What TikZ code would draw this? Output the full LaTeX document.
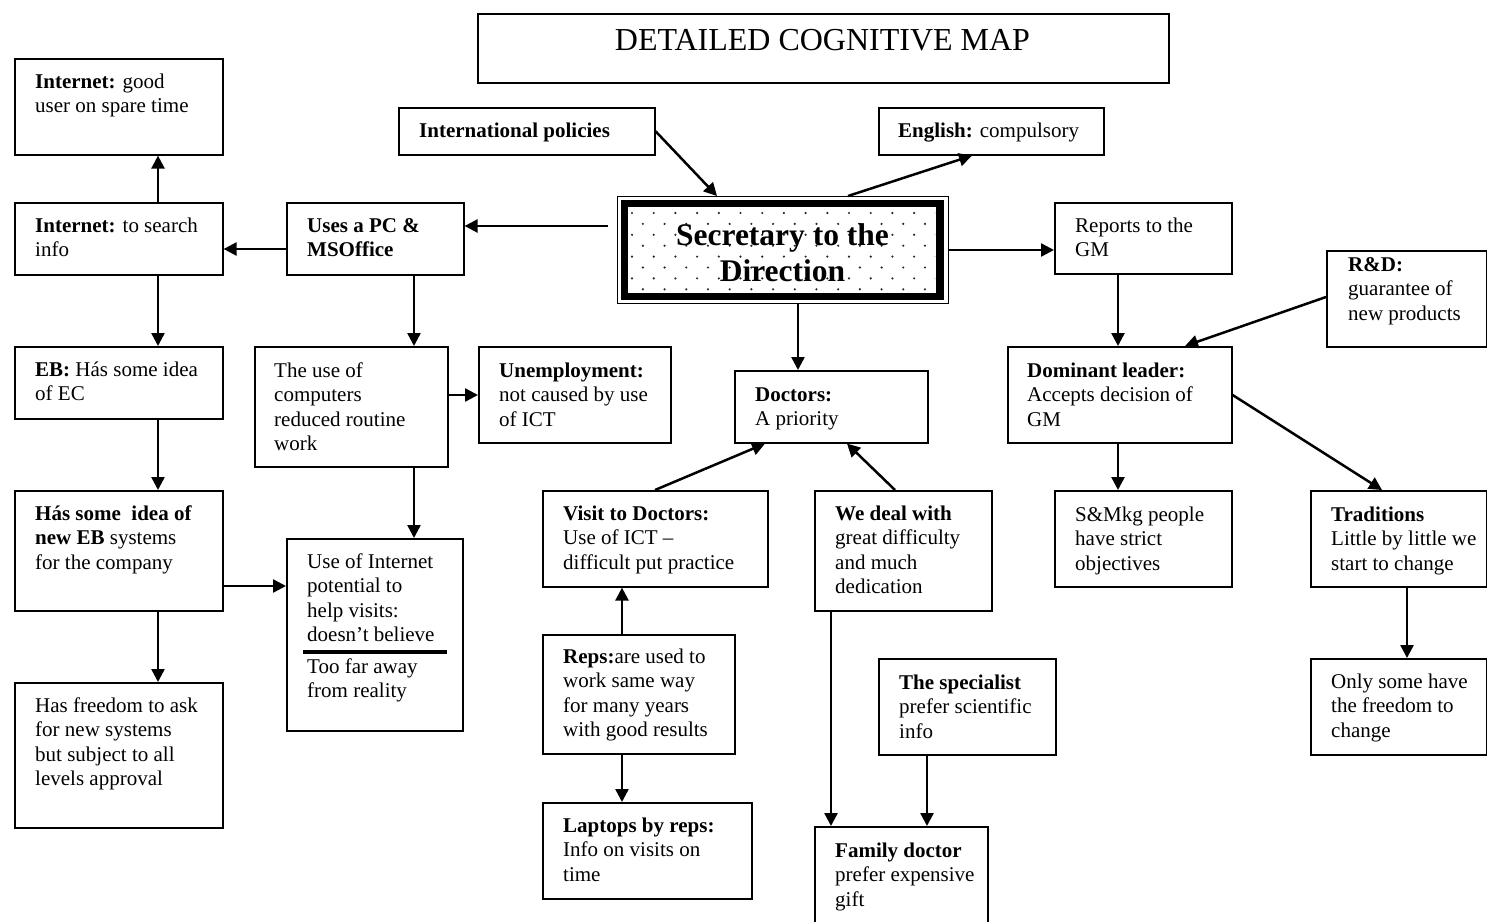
\documentclass[tikz,border=0pt]{standalone}
\usepackage{fontspec}
\setmainfont{Liberation Serif}
\usetikzlibrary{arrows.meta}
\begin{document}
\begin{tikzpicture}[x=1pt,y=-1pt,
  box/.style={draw, line width=1.6pt, inner sep=0pt, anchor=north west},
  txt/.style={inner sep=0pt, anchor=north west, align=left, font=\fontsize{21}{24.5}\selectfont},
  arr/.style={line width=2.5pt, -{Triangle[length=13pt,width=13pt]}},
  rule/.style={line width=3.3pt}
]
% box: name, left, top, right, bottom (y grows downwards)
\newcommand\mybox[5]{\node[box, minimum width={#4-#2}, minimum height={#5-#3}] (#1) at (#2,#3) {};}
% text: name, left, first baseline, content
\newcommand\mytext[4]{\node[txt] (#1) at (#2,{#3-17.15}) {\strut #4};}

\useasboundingbox (0,0) rectangle (1487,921);
\fill[white] (0,0) rectangle (1487,921);

% title
\mybox{title}{477}{13}{1168}{82}
\node[inner sep=0pt, anchor=base, font=\fontsize{32}{36}\selectfont] (titletext) at (822.5,50) {DETAILED COGNITIVE MAP};

% central concept: thin outer frame, thick inner frame, dotted fill
\node[draw, line width=1.2pt, inner sep=0pt, anchor=north west, minimum width=331, minimum height=107] (central) at (617,196) {};
\begin{scope}
  \clip (629,207) rectangle (935,292);
  \foreach \i in {0,...,8} {
    \foreach \j in {0,...,14} {
      \fill[black!85] ({632+mod(\i,2)*10.85+21.7*\j},{213+10.9*\i}) circle (1.2pt);
    }
  }
\end{scope}
\draw[line width=7.5pt] ([shift={(7.5,7.5)}]central.north west) rectangle ([shift={(-9,-7.5)}]central.south east);
\node[inner sep=0pt, anchor=north, align=center, font=\bfseries\fontsize{31.5}{36}\selectfont] (centraltext) at (782.5,{245-25.2}) {\strut Secretary to the\\Direction};

% left column
\mybox{inetGood}{14}{58}{222}{154}
\mytext{inetGoodT}{35}{88}{\textbf{Internet:} good\\user on spare time}
\mybox{inetSearch}{14}{202}{222}{274}
\mytext{inetSearchT}{35}{232}{\textbf{Internet:} to search\\info}
\mybox{ebIdea}{14}{346}{222}{418}
\mytext{ebIdeaT}{35}{376}{\textbf{EB:} Hás some idea\\of EC}
\mybox{hasSome}{14}{490}{222}{610}
\mytext{hasSomeT}{35}{520}{\textbf{Hás some\ \ idea of}\\\textbf{new EB} systems\\for the company}
\mybox{freedom}{14}{682}{222}{827}
\mytext{freedomT}{35}{712}{Has freedom to ask\\for new systems\\but subject to all\\levels approval}

% second column
\mybox{usesPC}{286}{202}{463}{274}
\mytext{usesPCT}{307}{232}{\textbf{Uses a PC \&}\\\textbf{MSOffice}}
\mybox{computers}{254}{346}{447}{466}
\mytext{computersT}{274}{377}{The use of\\computers\\reduced routine\\work}
\mybox{useInternet}{286}{538}{462}{730}
\mytext{useInternetT}{307}{568}{Use of Internet\\potential to\\help visits:\\doesn’t believe}
\draw[rule] (303,652) -- (447,652);
\mytext{useInternetU}{307}{673}{Too far away\\from reality}
\mybox{unemploy}{478}{346}{670}{442}
\mytext{unemployT}{499}{377}{\textbf{Unemployment:}\\not caused by use\\of ICT}

% top row
\mybox{intlPol}{398}{107}{654}{154}
\mytext{intlPolT}{419}{137}{\textbf{International policies}}
\mybox{english}{878}{107}{1103}{154}
\mytext{englishT}{898}{137}{\textbf{English:} compulsory}

% centre column
\mybox{doctors}{734}{370}{927}{442}
\mytext{doctorsT}{755}{401}{\textbf{Doctors:}\\A priority}
\mybox{visit}{542}{490}{767}{586}
\mytext{visitT}{563}{520}{\textbf{Visit to Doctors:}\\Use of ICT --\\difficult put practice}
\mybox{reps}{542}{634}{734}{753}
\mytext{repsT}{563}{663}{\textbf{Reps:}are used to\\work same way\\for many years\\with good results}
\mybox{laptops}{542}{802}{751}{898}
\mytext{laptopsT}{563}{832}{\textbf{Laptops by reps:}\\Info on visits on\\time}
\mybox{wedeal}{814}{490}{991}{610}
\mytext{wedealT}{835}{520}{\textbf{We deal with}\\great difficulty\\and much\\dedication}
\mybox{specialist}{878}{658}{1055}{754}
\mytext{specialistT}{899}{689}{\textbf{The specialist}\\prefer scientific\\info}
\mybox{family}{814}{826}{987}{925}
\mytext{familyT}{835}{857}{\textbf{Family doctor}\\prefer expensive\\gift}

% right side
\mybox{reports}{1054}{202}{1231}{273}
\mytext{reportsT}{1075}{232}{Reports to the\\GM}
\mybox{rnd}{1326}{250}{1486}{346}
\mytext{rndT}{1348}{271}{\textbf{R\&D:}\\guarantee of\\new products}
\mybox{dominant}{1007}{346}{1231}{442}
\mytext{dominantT}{1027}{377}{\textbf{Dominant leader:}\\Accepts decision of\\GM}
\mybox{smkg}{1054}{490}{1231}{586}
\mytext{smkgT}{1075}{521}{S\&Mkg people\\have strict\\objectives}
\mybox{traditions}{1310}{490}{1486}{586}
\mytext{traditionsT}{1331}{521}{\textbf{Traditions}\\Little by little we\\start to change}
\mybox{onlysome}{1310}{658}{1486}{754}
\mytext{onlysomeT}{1331}{688}{Only some have\\the freedom to\\change}

% connectors
\draw[arr] (inetSearch.north -| 158,0) -- (inetGood.south -| 158,0);
\draw[arr] (usesPC.west |- 0,249) -- (inetSearch.east |- 0,249);
\draw[arr, shorten <=9pt] (central.west |- 0,226) -- (usesPC.east |- 0,226);
\draw[arr] (usesPC.south -| 414,0) -- (computers.north -| 414,0);
\draw[arr] (computers.east |- 0,395) -- (unemploy.west |- 0,395);
\draw[arr] (computers.south -| 414,0) -- (useInternet.north -| 414,0);
\draw[arr] (inetSearch.south -| 158,0) -- (ebIdea.north -| 158,0);
\draw[arr] (ebIdea.south -| 158,0) -- (hasSome.north -| 158,0);
\draw[arr] (hasSome.east |- 0,586) -- (useInternet.west |- 0,586);
\draw[arr] (hasSome.south -| 158,0) -- (freedom.north -| 158,0);
\draw[arr] (intlPol.east) -- (central.north -| 717,0);
\draw[arr] (central.north -| 848,0) -- (english.south -| 972,0);
\draw[arr] (central.east |- 0,250) -- (reports.west |- 0,250);
\draw[arr] (central.south -| 798,0) -- (doctors.north -| 798,0);
\draw[arr] (reports.south -| 1118,0) -- (dominant.north -| 1118,0);
\draw[arr] (rnd.west |- 0,297) -- (dominant.north -| 1185,0);
\draw[arr] (dominant.south -| 1118,0) -- (smkg.north -| 1118,0);
\draw[arr] (dominant.east |- 0,395) -- (traditions.north -| 1382,0);
\draw[arr] (traditions.south -| 1407,0) -- (onlysome.north -| 1407,0);
\draw[arr] (visit.north -| 655,0) -- (doctors.south -| 765,0);
\draw[arr] (wedeal.north -| 895,0) -- (doctors.south -| 847,0);
\draw[arr] (reps.north -| 622,0) -- (visit.south -| 622,0);
\draw[arr] (reps.south -| 622,0) -- (laptops.north -| 622,0);
\draw[arr] (wedeal.south -| 831,0) -- (family.north -| 831,0);
\draw[arr] (specialist.south -| 927,0) -- (family.north -| 927,0);
\end{tikzpicture}
\end{document}
